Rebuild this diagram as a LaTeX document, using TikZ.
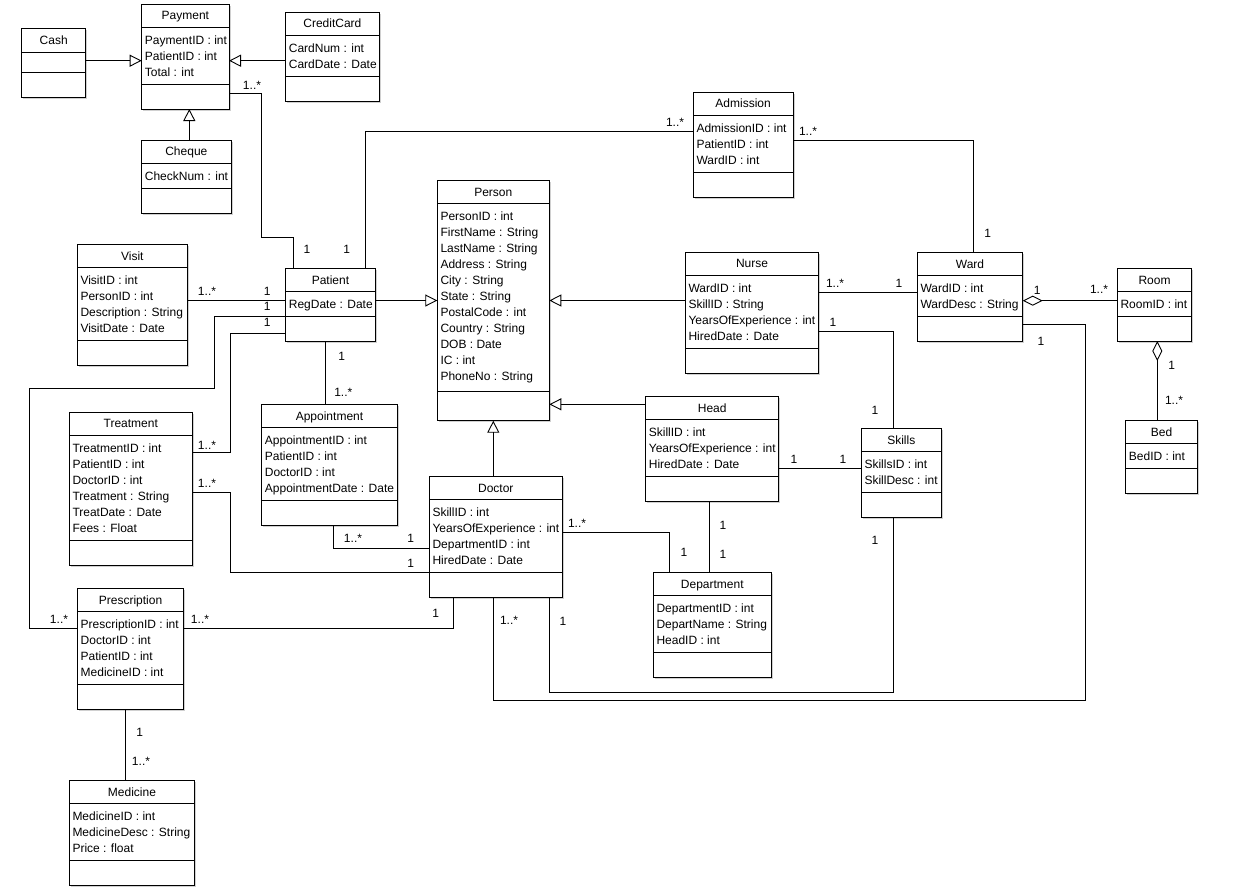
\documentclass[tikz,border=0pt]{standalone}
\usepackage{fontspec}
\setmainfont{Liberation Sans}
\usetikzlibrary{arrows.meta,fit,shadows}
\tikzset{
  txt/.style={font=\fontsize{12}{16}\selectfont, inner sep=0pt},
  classbox/.style={draw, fill=white, line width=0.9pt, inner sep=0pt, outer sep=0pt,
    drop shadow={shadow xshift=1.5pt, shadow yshift=-1.5pt, fill=black!30, opacity=0.6}},
  sepline/.style={line width=0.9pt},
  assoc/.style={line width=0.9pt},
  gen/.style={assoc, -{Triangle[open, length=12pt, width=12pt]}},
  agg/.style={assoc, {Diamond[open, length=20pt, width=10pt]}-},
  lbl/.style={txt},
}
% name, x1, y1, x2, y2, sep1, sep2, title, attributes
\newcommand{\umlclass}[9]{%
  \node[classbox, fit={(#2,#3) (#4,#5)}] (#1) {};
  \draw[sepline] (#2,#6) -- (#4,#6);
  \draw[sepline] (#2,#7) -- (#4,#7);
  \node[txt, anchor=base] (#1-t) at ({(#2+#4)/2},{(#3+#6)/2+4.3}) {#8};
  \if\relax\detokenize{#9}\relax\else
  \foreach \attr [count=\i] in {#9} {\node[txt, anchor=base west] (#1-\i) at ({#2+3},{#6+17+16*(\i-1)}) {\attr};}
  \fi
}
\begin{document}
\begin{tikzpicture}[x=1pt,y=-1pt]
\fill[white] (0,0) rectangle (1253,889);
\useasboundingbox (0,0) rectangle (1253,889);

\umlclass{cash}{21.7}{28}{85.7}{97}{52}{72}{Cash}{}
\umlclass{payment}{141.7}{4.3}{229}{109}{27}{84}{Payment}{PaymentID : int, PatientID : int, Total : int}
\umlclass{credit}{285.7}{12.3}{379}{101}{35}{76}{CreditCard}{CardNum : int, CardDate : Date}
\umlclass{cheque}{141.7}{140}{231}{213}{163}{188}{Cheque}{CheckNum : int}
\umlclass{admission}{693.3}{92.3}{793}{197}{115}{172.7}{Admission}{AdmissionID : int, PatientID : int, WardID : int}
\umlclass{visit}{77.3}{244.3}{187.3}{365.3}{267.3}{340.3}{Visit}{VisitID : int, PersonID : int, Description : String, VisitDate : Date}
\umlclass{patient}{285.7}{268.3}{375.3}{341}{291.7}{316.7}{Patient}{RegDate : Date}
\umlclass{person}{437.3}{180.7}{549.3}{420.7}{203.3}{391.7}{Person}{PersonID : int, FirstName : String, LastName : String, Address : String, City : String, State : String, PostalCode : int, Country : String, DOB : Date, IC : int, PhoneNo : String}
\umlclass{nurse}{685.3}{252.3}{818.7}{373.3}{275}{348.3}{Nurse}{WardID : int, SkillID : String, YearsOfExperience : int, HiredDate : Date}
\umlclass{ward}{917.3}{252.3}{1022.7}{341}{275.3}{316.3}{Ward}{WardID : int, WardDesc : String}
\umlclass{room}{1117.3}{268.3}{1191.7}{341}{291.7}{316.3}{Room}{RoomID : int}
\umlclass{bed}{1125.7}{420.3}{1197.3}{493.3}{443.3}{468.7}{Bed}{BedID : int}
\umlclass{treatment}{69.3}{412.3}{192.3}{565}{435}{540.7}{Treatment}{TreatmentID : int, PatientID : int, DoctorID : int, Treatment : String, TreatDate : Date, Fees : Float}
\umlclass{appointment}{261.7}{404.3}{397.3}{525.3}{427.7}{500.7}{Appointment}{AppointmentID : int, PatientID : int, DoctorID : int, AppointmentDate : Date}
\umlclass{head}{645.7}{396.3}{778.7}{501}{419.3}{476.3}{Head}{SkillID : int, YearsOfExperience : int, HiredDate : Date}
\umlclass{skills}{861.3}{428.3}{941.3}{517}{451.3}{492.3}{Skills}{SkillsID : int, SkillDesc : int}
\umlclass{doctor}{429.3}{476.7}{562.3}{597.5}{499.3}{572.7}{Doctor}{SkillID : int, YearsOfExperience : int, DepartmentID : int, HiredDate : Date}
\umlclass{department}{653.3}{572.7}{771.3}{677.3}{595.3}{652.3}{Department}{DepartmentID : int, DepartName : String, HeadID : int}
\umlclass{prescription}{77.5}{588.3}{183.6}{709.3}{611.3}{684.3}{Prescription}{PrescriptionID : int, DoctorID : int, PatientID : int, MedicineID : int}
\umlclass{medicine}{69.3}{780.3}{194.6}{885.3}{803.3}{860.3}{Medicine}{MedicineID : int, MedicineDesc : String, Price : float}

% helper coordinates
\coordinate (g1) at (0,60.7);
\coordinate (g2) at (189.3,0);
\coordinate (hD) at (0,300.5);
\coordinate (g5) at (0,404.3);
\coordinate (g6) at (493.3,0);
\coordinate (hA) at (0,93);
\coordinate (bA) at (261,237);
\coordinate (vA) at (293.7,0);
\coordinate (vB) at (365.3,0);
\coordinate (hB) at (0,131.7);
\coordinate (hC) at (0,140.3);
\coordinate (vC) at (973.3,0);
\coordinate (hE) at (0,316.7);
\coordinate (bE1) at (214,388);
\coordinate (bE2) at (29.3,628.3);
\coordinate (hF) at (0,333);
\coordinate (bF) at (230.7,452.3);
\coordinate (vG) at (325.7,0);
\coordinate (hH) at (0,292.3);
\coordinate (hI) at (0,331.7);
\coordinate (vI) at (893.3,0);
\coordinate (hJ) at (0,300.7);
\coordinate (vK) at (1157.3,0);
\coordinate (hL) at (0,324.3);
\coordinate (bL) at (1085.3,700.7);
\coordinate (bM) at (549.3,692.3);
\coordinate (hN) at (0,468.7);
\coordinate (vO) at (709.7,0);
\coordinate (hP) at (0,532.7);
\coordinate (vP) at (669.3,0);
\coordinate (vQ) at (333.3,0);
\coordinate (hQ) at (0,548.3);
\coordinate (hR) at (0,492.3);
\coordinate (bR) at (230,572.3);
\coordinate (hS) at (0,628.3);
\coordinate (vS) at (453.2,0);
\coordinate (vT) at (125.4,0);

% generalizations
\draw[gen] (cash.east |- g1) -- (payment.west |- g1);
\draw[gen] (credit.west |- g1) -- (payment.east |- g1);
\draw[gen] (cheque.north -| g2) -- (payment.south -| g2);
\draw[gen] (patient.east |- hD) -- (person.west |- hD);
\draw[gen] (nurse.west |- hD) -- (person.east |- hD);
\draw[gen] (head.west |- g5) -- (person.east |- g5);
\draw[gen] (doctor.north -| g6) -- (person.south -| g6);

% associations
\draw[assoc] (payment.east |- hA) -| (bA) -| (patient.north -| vA);
\draw[assoc] (patient.north -| vB) |- (admission.west |- hB);
\draw[assoc] (admission.east |- hC) -| (ward.north -| vC);
\draw[assoc] (visit.east |- hD) -- (patient.west |- hD);
\draw[assoc] (patient.west |- hE) -| (bE1) -| (bE2) -- (prescription.west |- bE2);
\draw[assoc] (patient.west |- hF) -| (bF) -- (treatment.east |- bF);
\draw[assoc] (patient.south -| vG) -- (appointment.north -| vG);
\draw[assoc] (nurse.east |- hH) -- (ward.west |- hH);
\draw[assoc] (nurse.east |- hI) -| (skills.north -| vI);
\draw[agg] (ward.east |- hJ) -- (room.west |- hJ);
\draw[agg] (room.south -| vK) -- (bed.north -| vK);
\draw[assoc] (ward.east |- hL) -| (bL) -| (doctor.south -| g6);
\draw[assoc] (skills.south -| vI) |- (bM) -- (doctor.south -| bM);
\draw[assoc] (head.east |- hN) -- (skills.west |- hN);
\draw[assoc] (head.south -| vO) -- (department.north -| vO);
\draw[assoc] (doctor.east |- hP) -| (department.north -| vP);
\draw[assoc] (appointment.south -| vQ) |- (doctor.west |- hQ);
\draw[assoc] (treatment.east |- hR) -| (bR) -- (doctor.west |- bR);
\draw[assoc] (prescription.east |- hS) -| (doctor.south -| vS);
\draw[assoc] (prescription.south -| vT) -- (medicine.north -| vT);

% multiplicities
\node[lbl] (m1) at (252,85) {1..*};
\node[lbl] (m2) at (307,249.3) {1};
\node[lbl] (m3) at (346.7,249.3) {1};
\node[lbl] (m4) at (675,122.7) {1..*};
\node[lbl] (m5) at (808,131.7) {1..*};
\node[lbl] (m6) at (987.7,233.3) {1};
\node[lbl] (m7) at (207,291) {1..*};
\node[lbl] (m8) at (267.3,291) {1};
\node[lbl] (m9) at (267.3,306.7) {1};
\node[lbl] (m10) at (267.3,322.7) {1};
\node[lbl] (m11) at (59,619) {1..*};
\node[lbl] (m12) at (207,445) {1..*};
\node[lbl] (m13) at (207,483) {1..*};
\node[lbl] (m14) at (410.7,563) {1};
\node[lbl] (m15) at (341.7,356) {1};
\node[lbl] (m16) at (343.3,392.3) {1..*};
\node[lbl] (m17) at (353,538) {1..*};
\node[lbl] (m18) at (410.7,538) {1};
\node[lbl] (m19) at (835,283) {1..*};
\node[lbl] (m20) at (899,283) {1};
\node[lbl] (m21) at (833,322) {1};
\node[lbl] (m22) at (875,410) {1};
\node[lbl] (m23) at (1037.3,290.7) {1};
\node[lbl] (m24) at (1099,289.3) {1..*};
\node[lbl] (m25) at (1171.7,365) {1};
\node[lbl] (m26) at (1174,400) {1..*};
\node[lbl] (m27) at (1041,341) {1};
\node[lbl] (m28) at (875,540.7) {1};
\node[lbl] (m29) at (794,459) {1};
\node[lbl] (m30) at (843,459) {1};
\node[lbl] (m31) at (723,525) {1};
\node[lbl] (m32) at (723,554) {1};
\node[lbl] (m33) at (577,523) {1..*};
\node[lbl] (m34) at (684,552) {1};
\node[lbl] (m35) at (509,620.7) {1..*};
\node[lbl] (m36) at (563,621.7) {1};
\node[lbl] (m37) at (200,619) {1..*};
\node[lbl] (m38) at (435.7,613.3) {1};
\node[lbl] (m39) at (139.6,732.7) {1};
\node[lbl] (m40) at (141,761.7) {1..*};
\end{tikzpicture}
\end{document}
